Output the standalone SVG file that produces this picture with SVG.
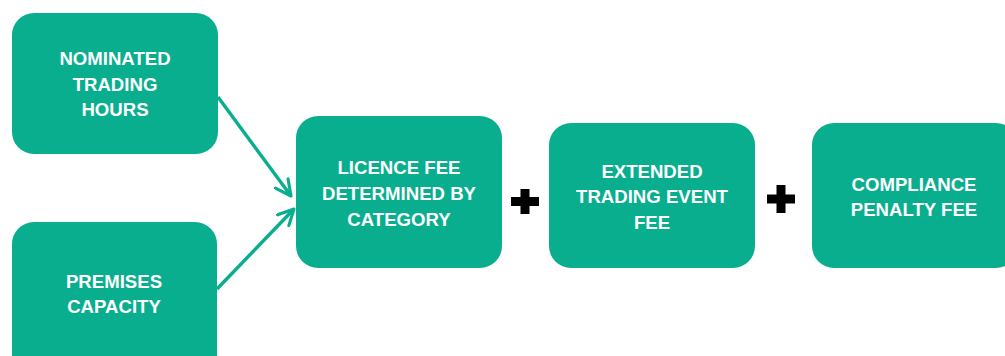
<svg xmlns="http://www.w3.org/2000/svg" width="1005" height="356" viewBox="0 0 1005 356">
<style>
.box{fill:#08AE8E;}
.lbl{font-family:"Liberation Sans",Arial,sans-serif;font-weight:bold;font-size:18.6px;fill:#ffffff;text-anchor:middle;}
.conn{stroke:#08AE8E;stroke-width:3.4;fill:none;}
.plus{fill:#000000;}
</style>
<defs>
<marker id="arr" viewBox="0 0 12 12" refX="11" refY="6" markerWidth="5.5" markerHeight="5.5" orient="auto" markerUnits="strokeWidth">
<path d="M1,1 L11,6 L1,11" fill="none" stroke="#08AE8E" stroke-width="2" stroke-linecap="round" stroke-linejoin="round"/>
</marker>
</defs>
<rect width="1005" height="356" fill="#ffffff"/>
<g id="connectors">
<line class="conn" x1="218" y1="97" x2="291" y2="196" marker-end="url(#arr)"/>
<line class="conn" x1="217" y1="289" x2="294" y2="209" marker-end="url(#arr)"/>
</g>
<g id="node-hours">
<rect class="box" x="12" y="13" width="206" height="141" rx="22"/>
<text class="lbl" x="115" y="65">NOMINATED</text>
<text class="lbl" x="115" y="90.5">TRADING</text>
<text class="lbl" x="115" y="116">HOURS</text>
</g>
<g id="node-capacity">
<rect class="box" x="12" y="222" width="205" height="160" rx="22"/>
<text class="lbl" x="114" y="288">PREMISES</text>
<text class="lbl" x="114" y="313">CAPACITY</text>
</g>
<g id="node-licence">
<rect class="box" x="296" y="116" width="206" height="152" rx="22"/>
<text class="lbl" x="399" y="174">LICENCE FEE</text>
<text class="lbl" x="399" y="200">DETERMINED BY</text>
<text class="lbl" x="399" y="225.5">CATEGORY</text>
</g>
<g id="plus-1">
<path class="plus" d="M520.5,189 h9 v8 h9.5 v9 h-9.5 v8 h-9 v-8 h-9.5 v-9 h9.5 z"/>
</g>
<g id="node-extended">
<rect class="box" x="549" y="123" width="206" height="145" rx="22"/>
<text class="lbl" x="652" y="177.5">EXTENDED</text>
<text class="lbl" x="652" y="203">TRADING EVENT</text>
<text class="lbl" x="652" y="229">FEE</text>
</g>
<g id="plus-2">
<path class="plus" d="M776.5,185 h9 v9.5 h9.5 v9 h-9.5 v9.5 h-9 v-9.5 h-9.5 v-9 h9.5 z"/>
</g>
<g id="node-compliance">
<rect class="box" x="812" y="123" width="206" height="145" rx="22"/>
<text class="lbl" x="914" y="191">COMPLIANCE</text>
<text class="lbl" x="914" y="216">PENALTY FEE</text>
</g>
</svg>
